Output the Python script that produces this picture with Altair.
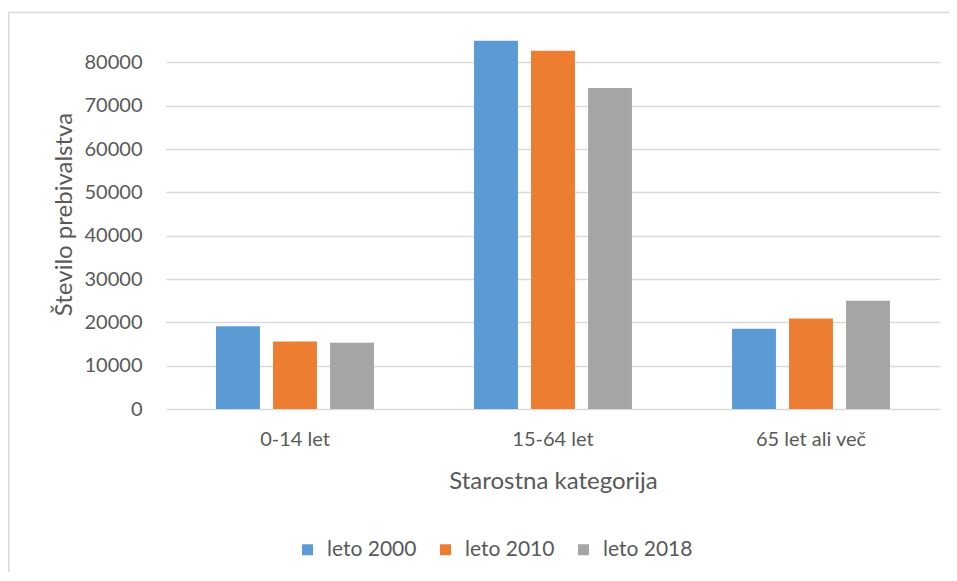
import altair as alt
import pandas as pd

categories = ["0-14 let", "15-64 let", "65 let ali več"]
series = ["leto 2000", "leto 2010", "leto 2018"]
v2000 = [19100, 85000, 18500]
v2010 = [15600, 82700, 20900]
v2018 = [15300, 74100, 25000]
colors = ["#5B9BD5", "#ED7D31", "#A5A5A5"]
y_ticks = [0, 10000, 20000, 30000, 40000, 50000, 60000, 70000, 80000]

rows = []
for s, vals in zip(series, [v2000, v2010, v2018]):
    for c, v in zip(categories, vals):
        rows.append({"kategorija": c, "serija": s, "vrednost": v})
df = pd.DataFrame(rows)

FONT = "Lato"
TXT = "#595959"

bars = alt.Chart(df).mark_bar().encode(
    x=alt.X("kategorija:N", sort=categories,
            scale=alt.Scale(paddingInner=0.337, paddingOuter=0.1685),
            axis=alt.Axis(title="Starostna kategorija", labelAngle=0, domain=False,
                          ticks=False, tickSize=0, labelPadding=20, titlePadding=20,
                          labelFontSize=20, titleFontSize=24, labelColor=TXT,
                          titleColor=TXT, labelFont=FONT, titleFont=FONT,
                          titleFontWeight="normal")),
    xOffset=alt.XOffset("serija:N", sort=series,
                        scale=alt.Scale(paddingInner=0.23, paddingOuter=0.115)),
    y=alt.Y("vrednost:Q", scale=alt.Scale(domain=[0, 90000], nice=False),
            axis=alt.Axis(title="Število prebivalstva", values=y_ticks, domain=False,
                          ticks=False, tickSize=0, labelPadding=24, titlePadding=8,
                          labelFontSize=20, titleFontSize=24, labelColor=TXT,
                          titleColor=TXT, labelFont=FONT, titleFont=FONT,
                          titleFontWeight="normal", format="d",
                          gridColor="#D9D9D9", gridWidth=1.5)),
    color=alt.Color("serija:N", sort=series,
                    scale=alt.Scale(domain=series, range=colors),
                    legend=alt.Legend(title=None, orient="none", direction="horizontal",
                                      legendX=131, legendY=520, symbolType="square",
                                      symbolSize=121, symbolStrokeWidth=0,
                                      labelFontSize=21, labelFont=FONT, labelColor=TXT,
                                      labelOffset=9, columnPadding=18)),
)

frame = alt.Chart(pd.DataFrame({"f": [0]})).mark_rect(
    fill=None, stroke="#D9D9D9", strokeWidth=1.5
).encode(
    x=alt.value(-157.25), x2=alt.value(800),
    y=alt.value(-6.5), y2=alt.value(600),
)

chart = alt.layer(frame, bars).properties(
    width=774, height=390,
    autosize=alt.AutoSizeParams(type="none"),
    padding={"left": 158, "top": 11, "right": 9, "bottom": 163},
).configure_view(stroke=None)

chart.save("out.html", embed_options={"renderer": "svg", "actions": False})
